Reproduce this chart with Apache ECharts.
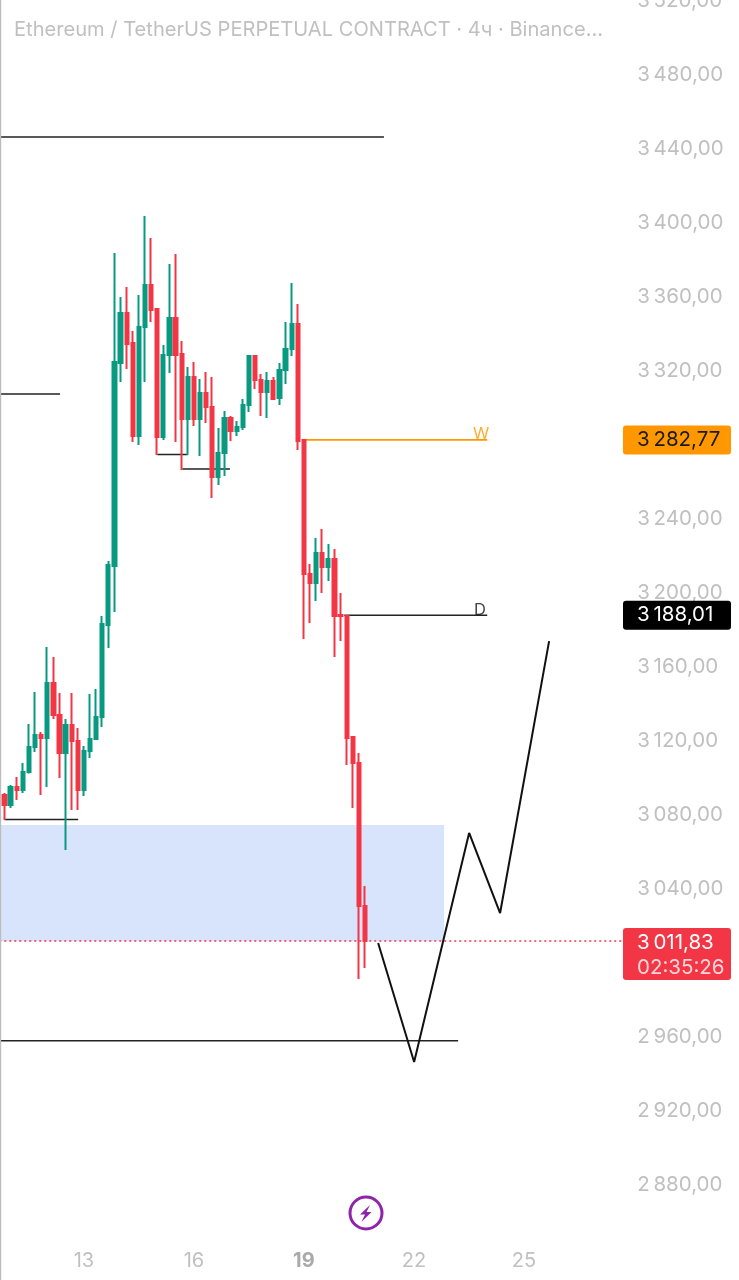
<!DOCTYPE html>
<html>
<head>
<meta charset="utf-8">
<title>ETHUSDT 4h</title>
<script src="https://cdn.jsdelivr.net/npm/echarts@6/dist/echarts.min.js"></script>
<style>
html, body { margin: 0; padding: 0; background: #fff; }
#main { width: 739px; height: 1280px; }
</style>
</head>
<body>
<div id="main"></div>
<script>
// 4h candles
var opens = [3090.8,3085.4,3095.1,3093.5,3103.2,3116.8,3123.2,3121.6,3151.4,3134.1,
    3113.5,3128.6,3120,3093.5,3114.6,3121.1,3133,3182.7,3214.6,3324.3,
    3351.4,3335.1,3284.9,3343.8,3366.5,3353.5,3284.3,3328.6,3348.6,3329.2,
    3294.1,3316.8,3294.1,3308.1,3300.5,3262.7,3275.7,3294.6,3287.6,3289.7,
    3301.6,3328.1,3315.1,3308.6,3314.6,3305.4,3320.5,3331.9,3345.4,3282.7,
    3210.3,3205.4,3221.6,3214.1,3218.4,3188.1,3187.6,3122.2,3108.1,3030.8];
var closes = [3085.4,3095.1,3093.5,3103.2,3116.8,3123.2,3121.6,3151.4,3134.1,3113.5,
    3128.6,3120,3093.5,3114.6,3121.1,3133,3183.2,3215.1,3324.9,3351.4,
    3334.6,3284.9,3343.8,3366.5,3353,3284.3,3328.6,3348.6,3328.6,3294.1,
    3316.8,3294.1,3308.1,3300.5,3262.7,3275.7,3294.6,3287.6,3289.7,3301.6,
    3328.1,3315.1,3308.6,3314.6,3304.9,3320.5,3331.9,3345.4,3282.2,3210.3,
    3205.4,3221.6,3214.1,3218.4,3187.6,3187.6,3121.6,3108.1,3030.8,3011.83];
var lows = [3077.3,3083.8,3088.1,3091.9,3102.5,3114.1,3090.8,3095.1,3131.9,3100,
    3061.1,3082.7,3082.7,3090.3,3110.8,3120.5,3127.6,3170.3,3189.7,3314.1,
    3321.1,3281.6,3280,3314.1,3346.5,3274.6,3282.7,3318.9,3281.6,3266.5,
    3274.6,3290.3,3274.1,3291.9,3251.4,3258.4,3263.2,3282.2,3284.9,3288.1,
    3297.8,3310.3,3295.7,3294.6,3304.3,3301.6,3313,3328.1,3277.3,3175.1,
    3183.8,3195.7,3200,3206.5,3165.4,3174.1,3107,3083.8,2991.4,2997.3];
var highs = [3091.9,3096.2,3100.5,3108.1,3129.2,3146.5,3124.9,3170.8,3165.4,3146,
    3131.9,3146,3127,3117.3,3145.4,3148.1,3187.6,3217.3,3383.8,3360,
    3365.4,3341.6,3361.1,3403.8,3391.9,3354.1,3334.1,3377.8,3383.2,3336.2,
    3322.2,3324.9,3315.7,3319.5,3316.8,3289.2,3298.4,3295.7,3293,3304.9,
    3328.1,3328.1,3318.4,3319.5,3316.8,3324.3,3346.5,3367.6,3356.2,3283,
    3215.7,3229.7,3234.6,3226.5,3223.8,3200,3188,3122.5,3113.5,3041.6];

var slotCount = 102; // candles plus empty space on the right
var dayLabels = { 13: '13', 31: '16', 49: '19', 67: '22', 85: '25' };
var boldDay = '19';
var priceTicks = [3520,3480,3440,3400,3360,3320,3240,3200,3160,3120,3080,3040,2960,2920,2880];
var lastPrice = 3011.83;
var countdown = '02:35:26';
var weeklyLevel = 3282.77;
var dailyLevel = 3188.01;

// drawn horizontal lines: [from candle, to candle, price]
var blackLevels = [
    [-0.85, 62.1, 3446.5],
    [-0.85, 9.1, 3307.6],
    [25, 30, 3274.9],
    [29.1, 36.9, 3267],
    [0, 12.06, 3077.6],
    [-0.85, 74.24, 2958],
    [55.6, 79, dailyLevel]
];
var orangeLevel = [49, 79, weeklyLevel];
// projected path
var pathCandles = [61.15, 67.04, 76.04, 81.11, 89.13];
var pathPrices = [3010.8, 2946.5, 3070.3, 3027, 3174];
var zoneFrom = -0.85, zoneTo = 71.95, zoneTop = 3074.6, zoneBottom = 3011.83;

var GREEN = '#089981', RED = '#f23645', ORANGE = '#ff9800', GREY = '#c0c0c0';
var FONT = 'Inter, "Noto Sans", sans-serif';

function priceText(v) {
    var s = v.toFixed(2).replace('.', ',');
    return s.slice(0, 1) + '\u2009' + s.slice(1);
}

// one empty slot in front so the drawings can reach the left edge
var categories = [''];
for (var i = 0; i < slotCount; i++) categories.push(dayLabels[i] || '');

var candleData = opens.map(function (o, i) { return [o, closes[i], lows[i], highs[i]]; });
candleData.unshift('-');

function levelSeries(lv, color, width, type) {
    return {
        type: 'line', xAxisIndex: 1, symbol: 'none', silent: true, z: 3,
        lineStyle: { color: color, width: width, type: type || 'solid' },
        data: [[lv[0], lv[2]], [lv[1], lv[2]]]
    };
}

var series = [
    {
        type: 'line', xAxisIndex: 1, data: [], z: 1, silent: true,
        markArea: {
            silent: true,
            itemStyle: { color: '#d8e3fc' },
            data: [[{ xAxis: zoneFrom, yAxis: zoneTop }, { xAxis: zoneTo, yAxis: zoneBottom }]]
        }
    },
    levelSeries([-0.85, 101.5, lastPrice], RED, 1.5, [2, 3]),
    {
        type: 'candlestick', z: 4, barWidth: 3.8,
        itemStyle: { color: GREEN, color0: RED, borderColor: GREEN, borderColor0: RED, borderWidth: 2 },
        data: candleData
    },
    levelSeries(orangeLevel, ORANGE, 1.6),
    {
        type: 'line', xAxisIndex: 1, symbol: 'none', silent: true, z: 5,
        lineStyle: { color: '#111', width: 2 },
        data: pathCandles.map(function (c, i) { return [c, pathPrices[i]]; })
    },
    {
        type: 'scatter', xAxisIndex: 1, symbolSize: 0, silent: true, z: 5,
        label: {
            show: true, position: 'top', distance: -3, fontFamily: FONT, fontSize: 16.5,
            formatter: function (p) { return p.value[2]; }
        },
        data: [
            { value: [78.0, weeklyLevel, 'W'], label: { color: ORANGE } },
            { value: [77.8, dailyLevel, 'D'], label: { color: '#111' } }
        ]
    }
];
blackLevels.forEach(function (lv) { series.push(levelSeries(lv, '#222', 1.5)); });

var myChart = echarts.init(document.getElementById('main'));
myChart.setOption({
    animation: false,
    backgroundColor: '#fff',
    title: {
        text: 'Ethereum / TetherUS PERPETUAL CONTRACT \u00b7 4\u0447 \u00b7 Binance...',
        left: 14, top: 20, padding: 0,
        textStyle: { color: GREY, fontSize: 20.1, fontWeight: 'normal', fontFamily: FONT }
    },
    grid: { left: -4.7, top: 1, width: 629.4, height: 1258, outerBoundsMode: 'none' },
    xAxis: [
        {
            type: 'category', data: categories, boundaryGap: true,
            axisLine: { show: false }, axisTick: { show: false }, splitLine: { show: false },
            axisLabel: {
                interval: 0, margin: 2, verticalAlign: 'middle', color: GREY, fontSize: 20, fontFamily: FONT,
                formatter: function (v) { return v === boldDay ? '{b|' + v + '}' : v; },
                rich: { b: { fontWeight: 'bold', color: '#aaa', fontSize: 20, fontFamily: FONT } }
            }
        },
        { type: 'value', min: -1.5, max: 101.5, show: false }
    ],
    yAxis: {
        type: 'value', position: 'right', min: 2840, max: 3520, interval: 40, scale: true,
        axisLine: { show: false }, axisTick: { show: false }, splitLine: { show: false },
        axisLabel: {
            margin: 12.5, color: GREY, fontSize: 20.5, fontFamily: FONT, padding: [0, 0, 3, 0],
            customValues: priceTicks,
            formatter: function (v) { return priceText(v); }
        }
    },
    series: series
});

// price tags on the right follow the axis
function tag(price, h, fill, lines, txtColor, offset) {
    var y = myChart.convertToPixel({ yAxisIndex: 0 }, price);
    var top = y - (offset === undefined ? h / 2 : offset);
    var out = [{
        type: 'rect', z: 50,
        shape: { x: 623, y: top, width: 108, height: h, r: 3 },
        style: { fill: fill }
    }];
    lines.forEach(function (t, i) {
        out.push({
            type: 'text', z: 51, x: 637, y: top + 14.5 + i * 25,
            style: { text: t, fill: txtColor[i], font: '20.5px ' + FONT, textVerticalAlign: 'middle' }
        });
    });
    return out;
}

var graphics = [
    { type: 'rect', z: 60, shape: { x: 0, y: 0, width: 1.2, height: 1280 }, style: { fill: '#bdbdbd' } },
    { type: 'circle', z: 60, shape: { cx: 366, cy: 1213, r: 16 }, style: { fill: '#fff', stroke: '#8e24aa', lineWidth: 3 } },
    { type: 'polygon', z: 61, shape: { points: [[370, 1205], [360, 1214.5], [365, 1214.5], [361.5, 1222], [371.5, 1212], [366.5, 1212]] }, style: { fill: '#8e24aa' } }
];
graphics = graphics
    .concat(tag(weeklyLevel, 29, ORANGE, [priceText(weeklyLevel)], ['#1a1a1a']))
    .concat(tag(dailyLevel, 29, '#000', [priceText(dailyLevel)], ['#fff']))
    .concat(tag(lastPrice, 52, RED, [priceText(lastPrice), countdown], ['#fff', '#ffd5d9'], 13));
myChart.setOption({ graphic: graphics });
</script>
</body>
</html>
